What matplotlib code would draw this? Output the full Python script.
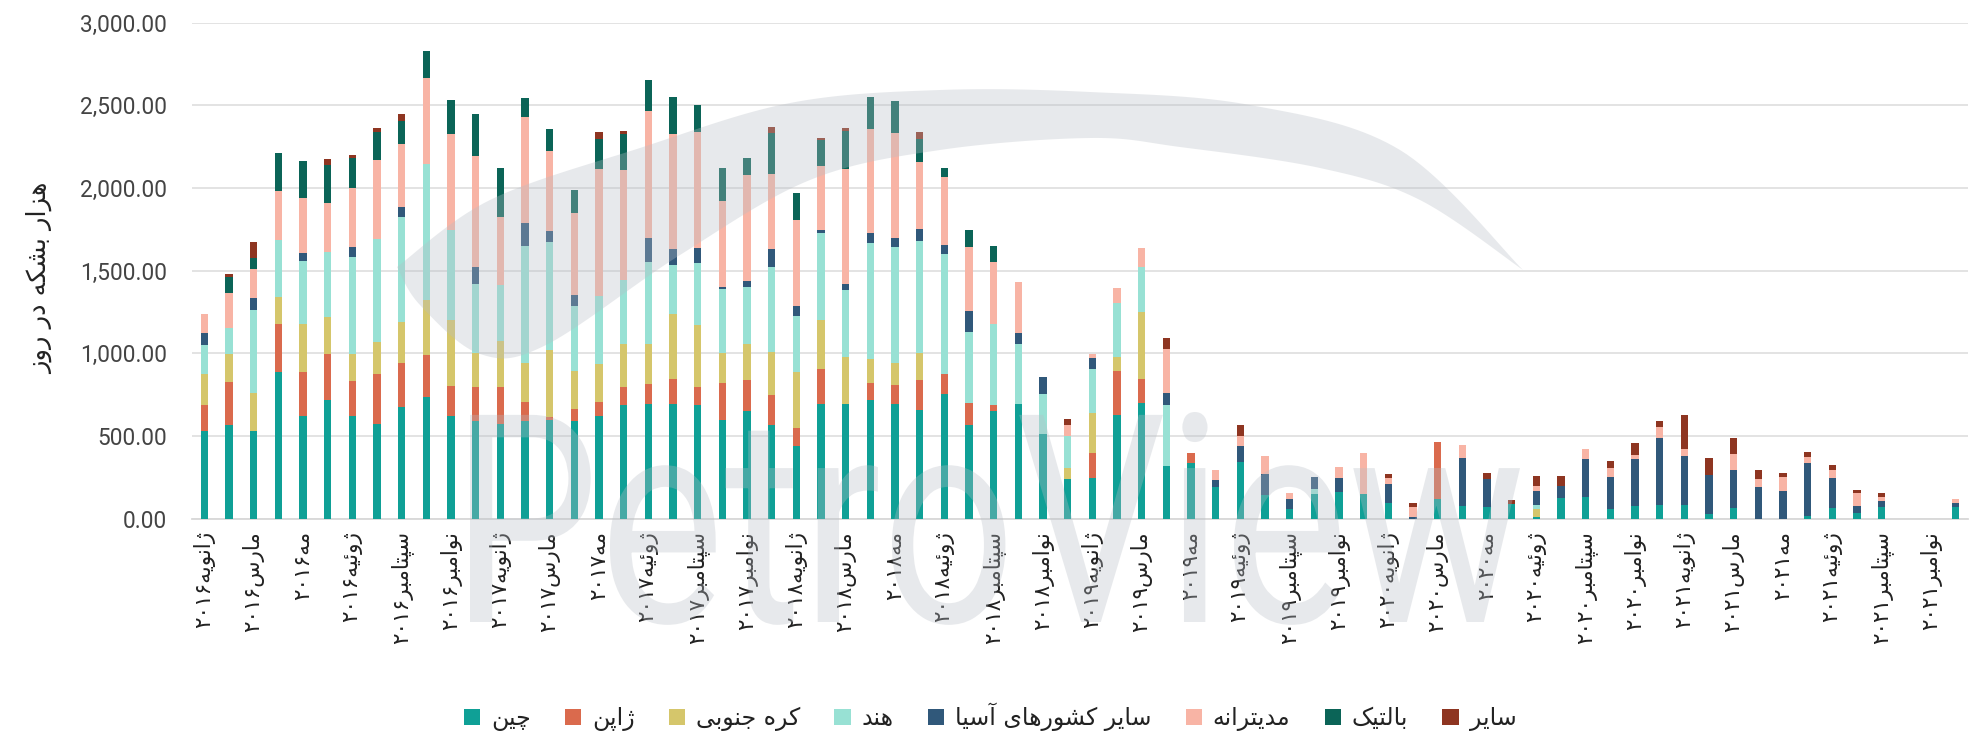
import matplotlib
matplotlib.use('Agg')
import matplotlib.pyplot as plt
import numpy as np
from matplotlib.patches import Patch, PathPatch, Polygon
from matplotlib.textpath import TextPath
from matplotlib.font_manager import FontProperties
from matplotlib.transforms import Affine2D

# ---------------- data (thousand barrels per day), Jan 2016 .. Dec 2021 ----------------
china = [527, 566, 527, 885, 623, 715, 623, 574, 674, 736, 623, 589,
         572, 589, 593, 589, 623, 685, 691, 691, 685, 593, 648, 566,
         439, 695, 695, 715, 691, 658, 756, 566, 648, 691, 511, 241,
         244, 627, 696, 319, 333, 192, 339, 145, 56, 151, 161, 151,
         93, 0, 117, 77, 69, 85, 12, 127, 131, 60, 77, 83,
         83, 26, 62, 0, 0, 16, 62, 34, 67, 0, 0, 67]
japan = [160, 258, 0, 290, 262, 280, 209, 303, 266, 251, 180, 204,
         225, 116, 20, 75, 82, 110, 120, 155, 110, 229, 192, 184,
         107, 210, 0, 107, 116, 182, 117, 135, 41, 0, 0, 0,
         151, 266, 147, 0, 66, 0, 0, 0, 0, 0, 0, 0,
         0, 0, 343, 0, 0, 0, 0, 0, 0, 0, 0, 0,
         0, 0, 0, 0, 0, 0, 0, 0, 0, 0, 0, 0]
korea = [186, 171, 233, 164, 290, 227, 163, 192, 251, 335, 397, 210,
         280, 233, 409, 231, 231, 258, 242, 390, 374, 179, 217, 258,
         339, 295, 282, 143, 133, 161, 0, 0, 0, 0, 0, 66,
         246, 87, 409, 0, 0, 0, 0, 0, 0, 0, 0, 0,
         0, 0, 0, 0, 0, 0, 44, 0, 0, 0, 0, 0,
         0, 0, 0, 0, 0, 0, 0, 0, 0, 0, 0, 0]
india = [179, 160, 501, 347, 382, 393, 589, 625, 632, 820, 547, 417,
         333, 713, 650, 388, 411, 388, 502, 297, 378, 385, 343, 515,
         341, 527, 403, 701, 701, 679, 727, 427, 486, 362, 241, 194,
         266, 322, 272, 368, 0, 0, 0, 0, 0, 26, 0, 0,
         0, 0, 0, 0, 0, 0, 27, 0, 0, 0, 0, 0,
         0, 0, 0, 0, 0, 0, 0, 0, 0, 0, 0, 0]
other_asia = [68, 0, 72, 0, 51, 0, 57, 0, 63, 0, 0, 103,
              0, 137, 65, 72, 0, 0, 145, 100, 88, 14, 37, 106,
              57, 16, 40, 61, 59, 71, 55, 125, 0, 67, 102, 0,
              67, 0, 0, 75, 0, 40, 100, 123, 65, 77, 87, 0,
              117, 10, 0, 292, 173, 0, 86, 67, 232, 192, 286, 405,
              296, 240, 234, 192, 169, 317, 184, 43, 36, 0, 0, 24]
mediterranean = [116, 208, 175, 294, 334, 294, 356, 478, 382, 525, 581, 670,
                 413, 644, 487, 495, 768, 668, 763, 691, 701, 519, 639, 456,
                 522, 389, 695, 629, 634, 409, 409, 388, 378, 311, 0, 65,
                 24, 95, 115, 266, 0, 60, 61, 111, 36, 0, 64, 248,
                 36, 59, 0, 75, 0, 0, 25, 0, 56, 56, 20, 64,
                 44, 0, 97, 44, 83, 40, 50, 76, 30, 0, 0, 30]
baltic = [0, 98, 68, 231, 224, 231, 184, 164, 139, 164, 206, 253,
          296, 110, 132, 139, 184, 215, 188, 225, 168, 202, 107, 249,
          163, 157, 229, 193, 194, 135, 57, 106, 98, 0, 0, 0,
          0, 0, 0, 0, 0, 0, 0, 0, 0, 0, 0, 0,
          0, 0, 0, 0, 0, 0, 0, 0, 0, 0, 0, 0,
          0, 0, 0, 0, 0, 0, 0, 0, 0, 0, 0, 0]
other = [0, 17, 98, 0, 0, 37, 20, 29, 39, 0, 0, 0,
         0, 0, 0, 0, 37, 20, 0, 0, 0, 0, 0, 37,
         0, 16, 21, 0, 0, 45, 0, 0, 0, 0, 0, 37,
         0, 0, 0, 67, 0, 0, 64, 0, 0, 0, 0, 0,
         22, 24, 0, 0, 32, 28, 64, 64, 0, 37, 73, 38,
         204, 103, 97, 60, 26, 28, 27, 22, 24, 0, 0, 0]

series_names = ['چین', 'ژاپن', 'کره جنوبی', 'هند', 'سایر کشورهای آسیا', 'مدیترانه', 'بالتیک', 'سایر']
series_colors = ['#0fa096', '#da6a4d', '#d5c66b', '#98e1d4', '#30587a', '#f8b4a5', '#0b6457', '#8e3521']
label_months = ['ژانویه', 'مارس', 'مه', 'ژوئیه', 'سپتامبر', 'نوامبر']
label_years = ['۲۰۱۶', '۲۰۱۷', '۲۰۱۸', '۲۰۱۹', '۲۰۲۰', '۲۰۲۱']
y_title = 'هزار بشکه در روز'
y_ticks = [0, 500, 1000, 1500, 2000, 2500, 3000]

# ---------------- minimal Persian shaping (presentation forms + visual order) ----------------
FORMS = {
    '\u0627': ['\ufe8d', '\ufe8e'], '\u0622': ['\ufe81', '\ufe82'],
    '\u062f': ['\ufea9', '\ufeaa'], '\u0631': ['\ufead', '\ufeae'],
    '\u0632': ['\ufeaf', '\ufeb0'], '\u0698': ['\ufb8a', '\ufb8b'],
    '\u0648': ['\ufeed', '\ufeee'],
    '\u0628': ['\ufe8f', '\ufe90', '\ufe91', '\ufe92'],
    '\u067e': ['\ufb56', '\ufb57', '\ufb58', '\ufb59'],
    '\u062a': ['\ufe95', '\ufe96', '\ufe97', '\ufe98'],
    '\u062c': ['\ufe9d', '\ufe9e', '\ufe9f', '\ufea0'],
    '\u0686': ['\ufb7a', '\ufb7b', '\ufb7c', '\ufb7d'],
    '\u0633': ['\ufeb1', '\ufeb2', '\ufeb3', '\ufeb4'],
    '\u0634': ['\ufeb5', '\ufeb6', '\ufeb7', '\ufeb8'],
    '\u06a9': ['\ufb8e', '\ufb8f', '\ufb90', '\ufb91'],
    '\u0644': ['\ufedd', '\ufede', '\ufedf', '\ufee0'],
    '\u0645': ['\ufee1', '\ufee2', '\ufee3', '\ufee4'],
    '\u0646': ['\ufee5', '\ufee6', '\ufee7', '\ufee8'],
    '\u0647': ['\ufee9', '\ufeea', '\ufeeb', '\ufeec'],
    '\u06cc': ['\ufbfc', '\ufbfd', '\ufbfe', '\ufbff'],
    '\u0626': ['\ufe89', '\ufe8a', '\ufe8b', '\ufe8c'],
}


def fa(s):
    s = s.replace('\u064a', '\u06cc').replace('\u0643', '\u06a9')
    shaped = []
    for i, c in enumerate(s):
        f = FORMS.get(c)
        if f is None:
            shaped.append(c)
            continue
        prev = s[i - 1] if i > 0 else ''
        nxt = s[i + 1] if i + 1 < len(s) else ''
        jp = prev in FORMS and len(FORMS[prev]) == 4
        jn = len(f) == 4 and nxt in FORMS
        if len(f) == 2:
            shaped.append(f[1] if jp else f[0])
        else:
            shaped.append(f[3] if (jp and jn) else f[1] if jp else f[2] if jn else f[0])
    runs, cur, curd = [], '', None
    for ch in shaped:
        d = ch.isdigit()
        if curd is None or d == curd:
            cur += ch
            curd = d
        else:
            runs.append((curd, cur))
            cur, curd = ch, d
    runs.append((curd, cur))
    return ''.join(r if d else r[::-1] for d, r in reversed(runs))


FA_FONT = ['DejaVu Sans']
W, H = 1973, 734

fig = plt.figure(figsize=(W / 100, H / 100), dpi=100)
ax = fig.add_axes([192 / W, (H - 518.5) / H, (1968 - 192) / W, (518.5 - 22.7) / H])

series = [china, japan, korea, india, other_asia, mediterranean, baltic, other]
x = np.arange(len(china))
bottom = np.zeros(len(china))
for vals, col in zip(series, series_colors):
    v = np.array(vals, dtype=float)
    ax.bar(x, v, width=0.3, bottom=bottom, color=col, linewidth=0, zorder=3)
    bottom += v

ax.set_xlim(-0.5, len(china) - 0.5)
ax.set_ylim(0, 3000)
ax.set_yticks(y_ticks)
ax.set_yticklabels([f'{t:,.2f}' for t in y_ticks], fontsize=16.3, family='Roboto',
                   color='#444444')
ax.yaxis.grid(True, color='#e0e0e0', linewidth=1.3, zorder=0)
ax.set_axisbelow(True)
for sp in ['top', 'right', 'left']:
    ax.spines[sp].set_visible(False)
ax.spines['bottom'].set_color('#d8d8d8')
ax.spines['bottom'].set_linewidth(1.3)
ax.tick_params(axis='both', length=0)
ax.tick_params(axis='y', pad=18)
ax.tick_params(axis='x', pad=9)

tick_labels = [m + y for y in label_years for m in label_months]
ax.set_xticks(x[::2])
ax.set_xticklabels([fa(t) for t in tick_labels], rotation=90, fontsize=15.5,
                   family=FA_FONT, color='#222222')

fig.text(40 / W, 1 - 278 / H, fa(y_title), rotation=90, ha='center', va='center',
         fontsize=18.5, family=FA_FONT, color='#222222')

handles = [Patch(facecolor=c, edgecolor='none') for c in series_colors]
fig.legend(handles, [fa(n) for n in series_names], loc='center',
           bbox_to_anchor=(990 / W, 17 / H), ncol=8, frameon=False,
           prop=FontProperties(family=FA_FONT, size=17),
           handlelength=0.7, handleheight=0.7, handletextpad=0.45,
           columnspacing=1.45, labelcolor='#222222')

# ---------------- watermark (logo text + swoosh) ----------------
wm_color = '#b8bec6'
tp = TextPath((0, 0), 'PetroView', size=100, prop=FontProperties(family='Roboto'))
ext = tp.get_extents()
x0, x1, base, cap = 470, 1520, H - 622, 210
tr = (Affine2D().translate(-ext.x0, 0).scale((x1 - x0) / ext.width, cap / ext.y1)
      .translate(x0, base).scale(1 / W, 1 / H))
fig.patches.append(PathPatch(tr.transform_path(tp), facecolor=wm_color, edgecolor='none',
                             alpha=0.33, transform=fig.transFigure, zorder=5))


def catmull(pts, n=20):
    pts = np.array(pts, dtype=float)
    p = np.vstack([pts[0], pts, pts[-1]])
    out = []
    for i in range(1, len(p) - 2):
        p0, p1, p2, p3 = p[i - 1], p[i], p[i + 1], p[i + 2]
        for t in np.linspace(0, 1, n, endpoint=False):
            t2, t3 = t * t, t * t * t
            out.append(0.5 * ((2 * p1) + (-p0 + p2) * t + (2 * p0 - 5 * p1 + 4 * p2 - p3) * t2
                              + (-p0 + 3 * p1 - 3 * p2 + p3) * t3))
    out.append(pts[-1])
    return np.array(out)


upper = [(397, 267), (490, 200), (640, 148), (790, 103), (940, 90), (1090, 92),
         (1250, 105), (1400, 150), (1523, 270)]
lower = [(1523, 270), (1420, 200), (1320, 168), (1180, 147), (1090, 138), (940, 150),
         (810, 180), (680, 255), (546, 345), (480, 354), (420, 305), (397, 267)]
poly = np.vstack([catmull(upper), catmull(lower)])
poly[:, 0] /= W
poly[:, 1] = 1 - poly[:, 1] / H
fig.patches.append(Polygon(poly, closed=True, facecolor=wm_color, edgecolor='none',
                           alpha=0.33, transform=fig.transFigure, zorder=5))

fig.savefig('out.png', dpi=100, facecolor='white')
